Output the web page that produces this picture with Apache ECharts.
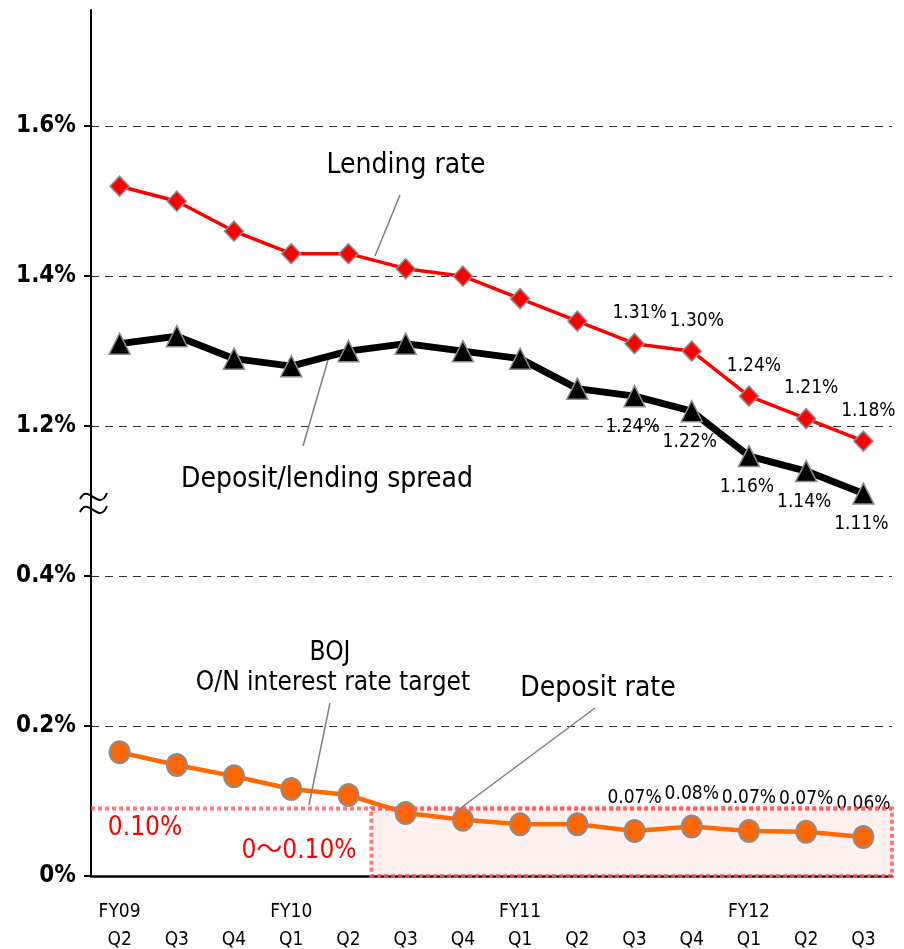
<!DOCTYPE html>
<html>
<head>
<meta charset="utf-8">
<script src="https://cdn.jsdelivr.net/npm/echarts@6/dist/echarts.min.js"></script>
<style>
  html, body { margin: 0; padding: 0; background: #fff; }
  #chart { width: 904px; height: 949px; }
</style>
</head>
<body>
<div id="chart"></div>
<script>
// 数据
var fyRow = ['FY09', '', '', 'FY10', '', '', '', 'FY11', '', '', '', 'FY12', '', ''];
var quarters = ['Q2', 'Q3', 'Q4', 'Q1', 'Q2', 'Q3', 'Q4', 'Q1', 'Q2', 'Q3', 'Q4', 'Q1', 'Q2', 'Q3'];
var lendingRate = [1.52, 1.50, 1.46, 1.43, 1.43, 1.41, 1.40, 1.37, 1.34, 1.31, 1.30, 1.24, 1.21, 1.18];
var spread = [1.31, 1.32, 1.29, 1.28, 1.30, 1.31, 1.30, 1.29, 1.25, 1.24, 1.22, 1.16, 1.14, 1.11];
var depositRate = [0.165, 0.148, 0.133, 0.116, 0.108, 0.084, 0.075, 0.069, 0.069, 0.060, 0.066, 0.060, 0.059, 0.052];
var lendingLabels = ['', '', '', '', '', '', '', '', '', '1.31%', '1.30%', '1.24%', '1.21%', '1.18%'];
var spreadLabels = ['', '', '', '', '', '', '', '', '', '1.24%', '1.22%', '1.16%', '1.14%', '1.11%'];
var depositLabels = ['', '', '', '', '', '', '', '', '', '0.07%', '0.08%', '0.07%', '0.07%', '0.06%'];
var yTickValues = [0, 0.2, 0.4, 0.6, 0.8, 1.0];
var yTickLabels = ['0%', '0.2%', '0.4%', '1.2%', '1.4%', '1.6%'];
var bojTarget = 0.09;     // dotted target line level
var bojRangeStart = 4.9;  // where the 0~0.10% band begins (in category units)

// 轴断开：1.2% 以上的值往下平移 0.6
var SHIFT = 0.6;
function shifted(arr) {
    return arr.map(function (v) { return +(v - SHIFT).toFixed(4); });
}

var FONT = '"DejaVu Sans Condensed"';
var myChart = echarts.init(document.getElementById('chart'));

function labelFrom(arr) {
    return function (p) { return arr[p.dataIndex]; };
}

function note(x, y, text, size, color) {
    return {
        type: 'text', x: x, y: y, z: 10,
        style: { text: text, font: size + 'px ' + FONT + ', "Noto Sans CJK JP"', fill: color || '#000', textAlign: 'center', textVerticalAlign: 'middle' }
    };
}
function leader(x1, y1, x2, y2) {
    return { type: 'line', z: 10, shape: { x1: x1, y1: y1, x2: x2, y2: y2 }, style: { stroke: '#808080', lineWidth: 1.5 } };
}

myChart.setOption({
    animation: false,
    textStyle: { fontFamily: FONT },
    grid: { left: 91, right: 12, top: 10, bottom: 73, containLabel: false, outerBoundsMode: 'none' },
    xAxis: [{
        type: 'category',
        data: quarters,
        boundaryGap: true,
        axisLine: { lineStyle: { color: '#000', width: 2.5 } },
        axisTick: { inside: true, length: 8, lineStyle: { color: '#000', width: 1.5 } },
        axisLabel: {
            interval: 0,
            margin: 22,
            color: '#000',
            fontSize: 19,
            lineHeight: 28,
            fontFamily: FONT,
            formatter: function (v, i) { return fyRow[i] + '\n' + v; }
        }
    }, {
        // 辅助轴，用来画日银目标区间
        type: 'value',
        min: 0,
        max: 14,
        show: false
    }],
    yAxis: {
        type: 'value',
        min: 0,
        max: 1.155,
        interval: 0.2,
        axisLine: { show: true, lineStyle: { color: '#000', width: 2 } },
        axisTick: { show: true, length: 7, customValues: yTickValues, lineStyle: { color: '#000', width: 2 } },
        axisLabel: {
            customValues: yTickValues,
            margin: 15,
            color: '#000',
            fontSize: 24,
            fontWeight: 'bold',
            fontFamily: FONT,
            formatter: function (v) {
                var i = yTickValues.indexOf(+v.toFixed(2));
                return i >= 0 ? yTickLabels[i] : '';
            }
        },
        splitLine: {
            show: true,
            showMinLine: false,
            lineStyle: { color: '#333', width: 1.2, type: [8, 6] }
        }
    },
    series: [{
        name: 'BOJ target',
        type: 'line',
        xAxisIndex: 1,
        data: [[0, bojTarget], [14, bojTarget]],
        symbol: 'none',
        z: 5,
        lineStyle: { color: 'rgba(255,90,90,0.8)', width: 4, type: [4, 3] },
        markArea: {
            silent: true,
            itemStyle: {
                color: 'rgba(255,160,160,0.16)',
                borderColor: 'rgba(255,90,90,0.8)',
                borderWidth: 4,
                borderType: [4, 3]
            },
            data: [[{ coord: [bojRangeStart, bojTarget] }, { coord: [14, 0] }]]
        }
    }, {
        name: 'Lending rate',
        type: 'line',
        data: shifted(lendingRate),
        symbol: 'diamond',
        symbolSize: [19, 20],
        z: 3,
        lineStyle: { color: '#ff0000', width: 3.5 },
        itemStyle: { color: '#ff0000', borderColor: '#8c8c8c', borderWidth: 1.5 },
        label: {
            show: true,
            position: 'top',
            offset: [5, -5],
            color: '#000',
            fontSize: 19,
            fontFamily: FONT,
            formatter: labelFrom(lendingLabels)
        }
    }, {
        name: 'Deposit/lending spread',
        type: 'line',
        data: shifted(spread),
        symbol: 'triangle',
        symbolSize: [21, 21],
        z: 3,
        lineStyle: { color: '#000', width: 7 },
        itemStyle: { color: '#000', borderColor: '#8c8c8c', borderWidth: 1.5 },
        label: {
            show: true,
            position: 'bottom',
            offset: [-2, 5],
            color: '#000',
            fontSize: 19,
            fontFamily: FONT,
            formatter: labelFrom(spreadLabels)
        }
    }, {
        name: 'Deposit rate',
        type: 'line',
        data: depositRate,
        symbol: 'circle',
        symbolSize: [20, 22],
        z: 3,
        lineStyle: { color: '#ff6a00', width: 4.5 },
        itemStyle: { color: '#ff6600', borderColor: '#8c8c8c', borderWidth: 2 },
        label: {
            show: true,
            position: 'top',
            offset: [0, -6],
            color: '#000',
            fontSize: 19,
            fontFamily: FONT,
            formatter: labelFrom(depositLabels)
        }
    }],
    // 注释文字和引线
    graphic: [
        note(406, 166, 'Lending rate', 28),
        leader(400, 195, 375, 256),
        note(327, 480, 'Deposit/lending spread', 28),
        leader(328, 360, 303, 446),
        note(330, 653, 'BOJ', 26),
        note(333, 683, 'O/N interest rate target', 26),
        leader(330, 703, 309, 805),
        note(598, 689, 'Deposit rate', 28),
        leader(595, 708, 458, 810),
        note(145, 828, '0.10%', 26, '#ff0000'),
        note(299, 851, '0〜0.10%', 26, '#ff0000'),
        // 轴断开的波浪号
        { type: 'bezierCurve', z: 10, shape: { x1: 80, y1: 499, cpx1: 88, cpy1: 482, cpx2: 99, cpy2: 513, x2: 107, y2: 493 }, style: { stroke: '#000', lineWidth: 2, fill: null } },
        { type: 'bezierCurve', z: 10, shape: { x1: 80, y1: 512, cpx1: 88, cpy1: 495, cpx2: 99, cpy2: 526, x2: 107, y2: 506 }, style: { stroke: '#000', lineWidth: 2, fill: null } }
    ]
});
</script>
</body>
</html>
